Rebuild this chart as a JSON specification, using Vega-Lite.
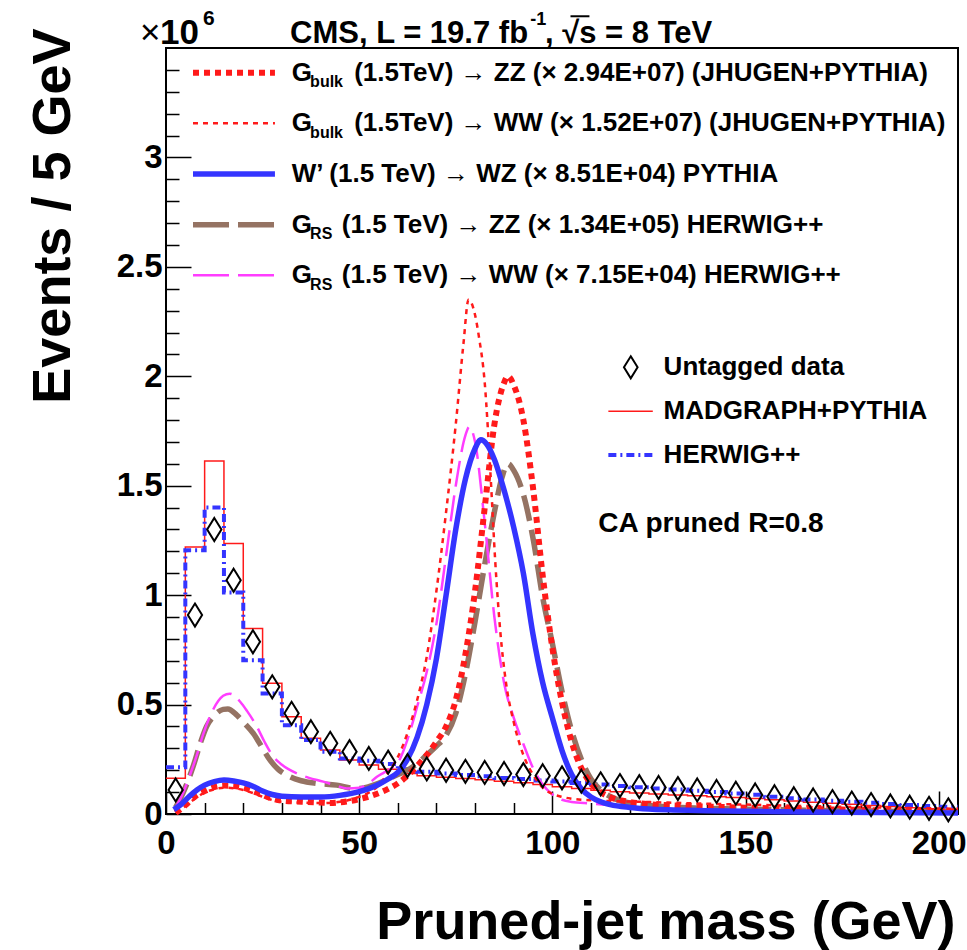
{
  "$schema": "https://vega.github.io/schema/vega-lite/v6.json",
  "width": 792,
  "height": 766,
  "autosize": {"type": "none"},
  "padding": {"left": 166, "top": 48, "right": 9, "bottom": 136},
  "background": "white",
  "config": {
    "view": {"stroke": "black", "strokeWidth": 2},
    "font": "Liberation Sans",
    "text": {"font": "Liberation Sans", "fontWeight": "bold", "color": "black"}
  },
  "datasets": {
    "madgraph": [
      {"m":0,"v":0.163},{"m":5,"v":1.22},{"m":10,"v":1.613},{"m":15,"v":1.236},{"m":20,"v":0.848},{"m":25,"v":0.597},{"m":30,"v":0.444},{"m":35,"v":0.346},{"m":40,"v":0.292},{"m":45,"v":0.247},{"m":50,"v":0.224},{"m":55,"v":0.205},{"m":60,"v":0.185},{"m":65,"v":0.175},{"m":70,"v":0.168},{"m":75,"v":0.162},{"m":80,"v":0.156},{"m":85,"v":0.150},{"m":90,"v":0.143},{"m":95,"v":0.135},{"m":100,"v":0.125},{"m":105,"v":0.116},{"m":110,"v":0.108},{"m":115,"v":0.102},{"m":120,"v":0.096},{"m":125,"v":0.091},{"m":130,"v":0.087},{"m":135,"v":0.083},{"m":140,"v":0.079},{"m":145,"v":0.075},{"m":150,"v":0.071},{"m":155,"v":0.065},{"m":160,"v":0.059},{"m":165,"v":0.054},{"m":170,"v":0.049},{"m":175,"v":0.044},{"m":180,"v":0.039},{"m":185,"v":0.034},{"m":190,"v":0.029},{"m":195,"v":0.024},{"m":200,"v":0.019},{"m":205,"v":0.019}
    ],
    "herwig": [
      {"m":0,"v":0.214},{"m":5,"v":1.205},{"m":10,"v":1.40},{"m":15,"v":1.012},{"m":20,"v":0.703},{"m":25,"v":0.551},{"m":30,"v":0.406},{"m":35,"v":0.338},{"m":40,"v":0.285},{"m":45,"v":0.254},{"m":50,"v":0.243},{"m":55,"v":0.228},{"m":60,"v":0.205},{"m":65,"v":0.193},{"m":70,"v":0.185},{"m":75,"v":0.178},{"m":80,"v":0.172},{"m":85,"v":0.165},{"m":90,"v":0.160},{"m":95,"v":0.153},{"m":100,"v":0.148},{"m":105,"v":0.142},{"m":110,"v":0.135},{"m":115,"v":0.128},{"m":120,"v":0.122},{"m":125,"v":0.117},{"m":130,"v":0.112},{"m":135,"v":0.106},{"m":140,"v":0.100},{"m":145,"v":0.094},{"m":150,"v":0.088},{"m":155,"v":0.079},{"m":160,"v":0.072},{"m":165,"v":0.066},{"m":170,"v":0.060},{"m":175,"v":0.056},{"m":180,"v":0.051},{"m":185,"v":0.046},{"m":190,"v":0.041},{"m":195,"v":0.037},{"m":200,"v":0.033},{"m":205,"v":0.033}
    ],
    "untagged": [
      {"m":2.5,"v":0.11},{"m":7.5,"v":0.909},{"m":12.5,"v":1.30},{"m":17.5,"v":1.068},{"m":22.5,"v":0.787},{"m":27.5,"v":0.581},{"m":32.5,"v":0.46},{"m":37.5,"v":0.376},{"m":42.5,"v":0.323},{"m":47.5,"v":0.285},{"m":52.5,"v":0.254},{"m":57.5,"v":0.237},{"m":62.5,"v":0.221},{"m":67.5,"v":0.206},{"m":72.5,"v":0.200},{"m":77.5,"v":0.195},{"m":82.5,"v":0.190},{"m":87.5,"v":0.185},{"m":92.5,"v":0.180},{"m":97.5,"v":0.175},{"m":102.5,"v":0.165},{"m":107.5,"v":0.150},{"m":112.5,"v":0.138},{"m":117.5,"v":0.130},{"m":122.5,"v":0.125},{"m":127.5,"v":0.121},{"m":132.5,"v":0.116},{"m":137.5,"v":0.110},{"m":142.5,"v":0.103},{"m":147.5,"v":0.095},{"m":152.5,"v":0.087},{"m":157.5,"v":0.079},{"m":162.5,"v":0.070},{"m":167.5,"v":0.064},{"m":172.5,"v":0.057},{"m":177.5,"v":0.050},{"m":182.5,"v":0.043},{"m":187.5,"v":0.037},{"m":192.5,"v":0.031},{"m":197.5,"v":0.026},{"m":202.5,"v":0.019}
    ],
    "wprime": [
      {"m":2,"v":0.02},{"m":4,"v":0.045},{"m":6,"v":0.08},{"m":8,"v":0.11},{"m":10,"v":0.132},{"m":12.5,"v":0.148},{"m":15,"v":0.155},{"m":17.5,"v":0.151},{"m":20,"v":0.142},{"m":22.5,"v":0.127},{"m":25,"v":0.105},{"m":27.5,"v":0.089},{"m":30,"v":0.081},{"m":35,"v":0.078},{"m":40,"v":0.078},{"m":45,"v":0.085},{"m":50,"v":0.102},{"m":52.5,"v":0.116},{"m":55,"v":0.135},{"m":57.5,"v":0.16},{"m":60,"v":0.19},{"m":62.5,"v":0.25},{"m":65,"v":0.35},{"m":67.5,"v":0.5},{"m":70,"v":0.71},{"m":72.5,"v":1.0},{"m":75,"v":1.3},{"m":77.5,"v":1.53},{"m":80,"v":1.67},{"m":81.5,"v":1.71},{"m":83,"v":1.69},{"m":85,"v":1.62},{"m":87.5,"v":1.48},{"m":90,"v":1.31},{"m":92.5,"v":1.1},{"m":95,"v":0.82},{"m":97.5,"v":0.6},{"m":100,"v":0.44},{"m":102.5,"v":0.29},{"m":105,"v":0.18},{"m":107.5,"v":0.115},{"m":110,"v":0.078},{"m":112.5,"v":0.056},{"m":115,"v":0.043},{"m":120,"v":0.03},{"m":125,"v":0.023},{"m":130,"v":0.019},{"m":140,"v":0.015},{"m":150,"v":0.012},{"m":175,"v":0.008},{"m":205,"v":0.005}
    ],
    "gbulk_zz": [
      {"m":2.5,"v":0.005},{"m":5,"v":0.04},{"m":7.5,"v":0.08},{"m":10,"v":0.105},{"m":12.5,"v":0.123},{"m":15,"v":0.13},{"m":17.5,"v":0.128},{"m":20,"v":0.12},{"m":22.5,"v":0.105},{"m":25,"v":0.087},{"m":27.5,"v":0.07},{"m":30,"v":0.061},{"m":35,"v":0.056},{"m":40,"v":0.052},{"m":42.5,"v":0.05},{"m":45,"v":0.053},{"m":50,"v":0.068},{"m":55,"v":0.095},{"m":57.5,"v":0.115},{"m":60,"v":0.14},{"m":62.5,"v":0.175},{"m":65,"v":0.22},{"m":67.5,"v":0.27},{"m":70,"v":0.33},{"m":72.5,"v":0.40},{"m":75,"v":0.52},{"m":77.5,"v":0.73},{"m":80,"v":1.02},{"m":82.5,"v":1.40},{"m":85,"v":1.78},{"m":87.5,"v":1.97},{"m":88.5,"v":2.0},{"m":90,"v":1.96},{"m":92.5,"v":1.8},{"m":95,"v":1.49},{"m":97.5,"v":1.09},{"m":100,"v":0.76},{"m":102.5,"v":0.51},{"m":105,"v":0.33},{"m":107.5,"v":0.21},{"m":110,"v":0.14},{"m":112.5,"v":0.1},{"m":115,"v":0.077},{"m":120,"v":0.055},{"m":125,"v":0.045},{"m":130,"v":0.04},{"m":140,"v":0.034},{"m":150,"v":0.029},{"m":175,"v":0.02},{"m":205,"v":0.012}
    ],
    "gbulk_ww": [
      {"m":2.5,"v":0.005},{"m":5,"v":0.035},{"m":7.5,"v":0.07},{"m":10,"v":0.098},{"m":12.5,"v":0.113},{"m":15,"v":0.12},{"m":17.5,"v":0.118},{"m":20,"v":0.11},{"m":22.5,"v":0.096},{"m":25,"v":0.079},{"m":27.5,"v":0.064},{"m":30,"v":0.056},{"m":35,"v":0.052},{"m":40,"v":0.05},{"m":45,"v":0.056},{"m":50,"v":0.078},{"m":52.5,"v":0.098},{"m":55,"v":0.13},{"m":57.5,"v":0.19},{"m":60,"v":0.26},{"m":62.5,"v":0.37},{"m":65,"v":0.52},{"m":67.5,"v":0.72},{"m":70,"v":1.02},{"m":72.5,"v":1.38},{"m":75,"v":1.78},{"m":77,"v":2.15},{"m":78.3,"v":2.35},{"m":80,"v":2.28},{"m":81,"v":2.18},{"m":82.5,"v":1.97},{"m":84,"v":1.55},{"m":85.2,"v":1.16},{"m":86.5,"v":0.84},{"m":88,"v":0.6},{"m":90,"v":0.42},{"m":92.5,"v":0.27},{"m":95,"v":0.18},{"m":97.5,"v":0.12},{"m":100,"v":0.092},{"m":102.5,"v":0.078},{"m":105,"v":0.07},{"m":110,"v":0.063},{"m":120,"v":0.057},{"m":130,"v":0.052},{"m":140,"v":0.047},{"m":150,"v":0.043},{"m":175,"v":0.033},{"m":205,"v":0.024}
    ],
    "grs_ww": [
      {"m":2.5,"v":0.03},{"m":4,"v":0.08},{"m":6.2,"v":0.178},{"m":8,"v":0.27},{"m":9.7,"v":0.368},{"m":12,"v":0.47},{"m":14.8,"v":0.54},{"m":16.5,"v":0.55},{"m":19.2,"v":0.513},{"m":21,"v":0.47},{"m":23.5,"v":0.40},{"m":25.5,"v":0.33},{"m":27.8,"v":0.262},{"m":30,"v":0.225},{"m":33.8,"v":0.186},{"m":37,"v":0.165},{"m":40.7,"v":0.148},{"m":44,"v":0.13},{"m":46.8,"v":0.117},{"m":50,"v":0.12},{"m":52.5,"v":0.14},{"m":54.6,"v":0.17},{"m":56.5,"v":0.19},{"m":58.9,"v":0.216},{"m":60.5,"v":0.25},{"m":62.5,"v":0.34},{"m":65,"v":0.49},{"m":67.5,"v":0.65},{"m":70,"v":0.87},{"m":72.5,"v":1.18},{"m":75,"v":1.5},{"m":77.5,"v":1.73},{"m":78.5,"v":1.77},{"m":80,"v":1.70},{"m":82.5,"v":1.33},{"m":85,"v":0.90},{"m":87.5,"v":0.60},{"m":90,"v":0.44},{"m":92.5,"v":0.32},{"m":95,"v":0.21},{"m":97.5,"v":0.135},{"m":100,"v":0.09},{"m":102.5,"v":0.065},{"m":105,"v":0.055},{"m":110,"v":0.048},{"m":115,"v":0.04},{"m":120,"v":0.03},{"m":130,"v":0.02},{"m":150,"v":0.012},{"m":205,"v":0.005}
    ],
    "grs_zz": [
      {"m":2.5,"v":0.03},{"m":4.5,"v":0.1},{"m":7,"v":0.216},{"m":9,"v":0.33},{"m":10.5,"v":0.40},{"m":12.5,"v":0.45},{"m":14.8,"v":0.478},{"m":16,"v":0.48},{"m":18.3,"v":0.452},{"m":20,"v":0.42},{"m":22.6,"v":0.368},{"m":25,"v":0.30},{"m":26.9,"v":0.247},{"m":29,"v":0.205},{"m":32.1,"v":0.17},{"m":35,"v":0.152},{"m":39,"v":0.14},{"m":44.2,"v":0.132},{"m":48.5,"v":0.117},{"m":50,"v":0.116},{"m":52.5,"v":0.125},{"m":55,"v":0.14},{"m":57.5,"v":0.16},{"m":60,"v":0.18},{"m":62.5,"v":0.2},{"m":65,"v":0.23},{"m":67.5,"v":0.27},{"m":70,"v":0.31},{"m":72.5,"v":0.36},{"m":75,"v":0.46},{"m":77.5,"v":0.64},{"m":80,"v":0.88},{"m":82.5,"v":1.14},{"m":85,"v":1.38},{"m":87,"v":1.54},{"m":88.5,"v":1.60},{"m":90,"v":1.57},{"m":92.5,"v":1.46},{"m":95,"v":1.26},{"m":97.5,"v":0.99},{"m":100,"v":0.78},{"m":102.5,"v":0.56},{"m":105,"v":0.38},{"m":107.5,"v":0.25},{"m":110,"v":0.16},{"m":112.5,"v":0.11},{"m":115,"v":0.08},{"m":120,"v":0.05},{"m":130,"v":0.032},{"m":150,"v":0.022},{"m":175,"v":0.015},{"m":205,"v":0.01}
    ],
    "annotations": [
      {"id":"times","text":"×"},
      {"id":"x10","text":"10"},
      {"id":"exp6","text":"6"},
      {"id":"cms","text":"CMS, L = 19.7 fb"},
      {"id":"lumiexp","text":"-1"},
      {"id":"energy","text":", √s = 8 TeV"},
      {"id":"algo","text":"CA pruned R=0.8"}
    ],
    "legend1": [
      {"row":1,"main":"G","sub":"bulk","rest":"(1.5TeV) → ZZ (× 2.94E+07) (JHUGEN+PYTHIA)"},
      {"row":2,"main":"G","sub":"bulk","rest":"(1.5TeV) → WW (× 1.52E+07) (JHUGEN+PYTHIA)"},
      {"row":3,"main":"W’ (1.5 TeV) → WZ (× 8.51E+04) PYTHIA","sub":"","rest":""},
      {"row":4,"main":"G","sub":"RS","rest":"(1.5 TeV) → ZZ (× 1.34E+05) HERWIG++"},
      {"row":5,"main":"G","sub":"RS","rest":"(1.5 TeV) → WW (× 7.15E+04) HERWIG++"}
    ],
    "legend2": [
      {"row":1,"label":"Untagged data"},
      {"row":2,"label":"MADGRAPH+PYTHIA"},
      {"row":3,"label":"HERWIG++"}
    ]
  },
  "resolve": {"scale": {"y": "independent"}},
  "layer": [
    {
      "resolve": {"axis": {"x": "independent", "y": "independent"}},
      "layer": [
        {
          "data": {"name": "madgraph"},
          "mark": {"type": "line", "interpolate": "step-after", "color": "#ff1a1a", "strokeWidth": 1.5},
          "encoding": {
            "x": {"field": "m", "type": "quantitative", "scale": {"domain": [0, 205], "nice": false, "zero": false},
              "axis": {"orient": "bottom", "values": [0, 50, 100, 150, 200], "format": "d", "tickSize": -23, "tickWidth": 1.5, "tickColor": "black", "domain": false, "grid": false,
                "labelFont": "Liberation Sans", "labelFontWeight": "bold", "labelFontSize": 33, "labelColor": "black", "labelPadding": 36, "labelFlush": false, "labelOverlap": false,
                "title": "Pruned-jet mass (GeV)", "titleFont": "Liberation Sans", "titleFontWeight": "bold", "titleFontSize": 54, "titleColor": "black", "titleAnchor": "end", "titleAlign": "right", "titleBaseline": "alphabetic", "titleX": 789, "titleY": 124}},
            "y": {"field": "v", "type": "quantitative", "scale": {"domain": [0, 3.5], "nice": false, "zero": false},
              "axis": {"orient": "left", "values": [0, 0.5, 1, 1.5, 2, 2.5, 3], "format": "~g", "tickSize": -25, "tickWidth": 1.5, "tickColor": "black", "domain": false, "grid": false,
                "labelFont": "Liberation Sans", "labelFontWeight": "bold", "labelFontSize": 33, "labelColor": "black", "labelPadding": 29, "labelFlush": false, "labelOverlap": false,
                "title": "Events / 5 GeV", "titleFont": "Liberation Sans", "titleFontWeight": "bold", "titleFontSize": 54, "titleColor": "black", "titleAngle": 270, "titleAnchor": "end", "titleAlign": "right", "titleBaseline": "alphabetic", "titleX": -97, "titleY": -20}}
          }
        },
        {
          "data": {"name": "herwig"},
          "mark": {"type": "line", "interpolate": "step-after", "color": "#3434ff", "strokeWidth": 4, "strokeDash": [8, 4, 2, 4]},
          "encoding": {
            "x": {"field": "m", "type": "quantitative", "scale": {"domain": [0, 205], "nice": false, "zero": false},
              "axis": {"orient": "bottom", "values": [10, 20, 30, 40, 60, 70, 80, 90, 110, 120, 130, 140, 160, 170, 180, 190], "tickSize": -11.5, "tickWidth": 1.5, "tickColor": "black", "labels": false, "domain": false, "grid": false, "title": null}},
            "y": {"field": "v", "type": "quantitative", "scale": {"domain": [0, 3.5], "nice": false, "zero": false},
              "axis": {"orient": "left", "values": [0.1, 0.2, 0.3, 0.4, 0.6, 0.7, 0.8, 0.9, 1.1, 1.2, 1.3, 1.4, 1.6, 1.7, 1.8, 1.9, 2.1, 2.2, 2.3, 2.4, 2.6, 2.7, 2.8, 2.9, 3.1, 3.2, 3.3, 3.4], "tickSize": -13, "tickWidth": 1.5, "tickColor": "black", "labels": false, "domain": false, "grid": false, "title": null}}
          }
        },
        {"data": {"name": "grs_zz"}, "mark": {"type": "line", "interpolate": "monotone", "color": "#957363", "strokeWidth": 5.5, "strokeDash": [26, 9]},
          "encoding": {"x": {"field": "m", "type": "quantitative", "scale": {"domain": [0, 205], "nice": false, "zero": false}, "axis": null}, "y": {"field": "v", "type": "quantitative", "scale": {"domain": [0, 3.5], "nice": false, "zero": false}, "axis": null}}},
        {"data": {"name": "grs_ww"}, "mark": {"type": "line", "interpolate": "monotone", "color": "#ff3dff", "strokeWidth": 2.5, "strokeDash": [26, 9]},
          "encoding": {"x": {"field": "m", "type": "quantitative", "scale": {"domain": [0, 205], "nice": false, "zero": false}, "axis": null}, "y": {"field": "v", "type": "quantitative", "scale": {"domain": [0, 3.5], "nice": false, "zero": false}, "axis": null}}},
        {"data": {"name": "gbulk_ww"}, "mark": {"type": "line", "interpolate": "monotone", "color": "#ff1a1a", "strokeWidth": 2.5, "strokeDash": [5, 5]},
          "encoding": {"x": {"field": "m", "type": "quantitative", "scale": {"domain": [0, 205], "nice": false, "zero": false}, "axis": null}, "y": {"field": "v", "type": "quantitative", "scale": {"domain": [0, 3.5], "nice": false, "zero": false}, "axis": null}}},
        {"data": {"name": "gbulk_zz"}, "mark": {"type": "line", "interpolate": "monotone", "color": "#ff1a1a", "strokeWidth": 6, "strokeDash": [6, 5]},
          "encoding": {"x": {"field": "m", "type": "quantitative", "scale": {"domain": [0, 205], "nice": false, "zero": false}, "axis": null}, "y": {"field": "v", "type": "quantitative", "scale": {"domain": [0, 3.5], "nice": false, "zero": false}, "axis": null}}},
        {"data": {"name": "wprime"}, "mark": {"type": "line", "interpolate": "monotone", "color": "#3434ff", "strokeWidth": 5.5},
          "encoding": {"x": {"field": "m", "type": "quantitative", "scale": {"domain": [0, 205], "nice": false, "zero": false}, "axis": null}, "y": {"field": "v", "type": "quantitative", "scale": {"domain": [0, 3.5], "nice": false, "zero": false}, "axis": null}}},
        {"data": {"name": "untagged"}, "mark": {"type": "point", "shape": "M0,-1L0.62,0L0,1L-0.62,0Z", "size": 529, "filled": false, "stroke": "black", "strokeWidth": 2, "opacity": 1},
          "encoding": {"x": {"field": "m", "type": "quantitative", "scale": {"domain": [0, 205], "nice": false, "zero": false}, "axis": null}, "y": {"field": "v", "type": "quantitative", "scale": {"domain": [0, 3.5], "nice": false, "zero": false}, "axis": null}}},
        {
          "data": {"name": "annotations"},
          "transform": [{"filter": "datum.id == 'times'"}],
          "mark": {"type": "text", "fontSize": 35, "fontWeight": "normal", "align": "left", "baseline": "alphabetic"},
          "encoding": {
            "x": {"datum": -6.73, "type": "quantitative", "axis": null},
            "y": {"datum": 3.5205, "type": "quantitative", "axis": null},
            "text": {"field": "text"}
          }
        },
        {
          "data": {"name": "annotations"},
          "transform": [{"filter": "datum.id == 'x10'"}],
          "mark": {"type": "text", "fontSize": 35, "align": "left", "baseline": "alphabetic"},
          "encoding": {
            "x": {"datum": -1.55, "type": "quantitative", "axis": null},
            "y": {"datum": 3.5205, "type": "quantitative", "axis": null},
            "text": {"field": "text"}
          }
        },
        {
          "data": {"name": "annotations"},
          "transform": [{"filter": "datum.id == 'exp6'"}],
          "mark": {"type": "text", "fontSize": 21, "align": "left", "baseline": "alphabetic"},
          "encoding": {
            "x": {"datum": 9.58, "type": "quantitative", "axis": null},
            "y": {"datum": 3.603, "type": "quantitative", "axis": null},
            "text": {"field": "text"}
          }
        },
        {
          "data": {"name": "annotations"},
          "transform": [{"filter": "datum.id == 'cms'"}],
          "mark": {"type": "text", "fontSize": 31, "align": "left", "baseline": "alphabetic"},
          "encoding": {
            "x": {"datum": 32.11, "type": "quantitative", "axis": null},
            "y": {"datum": 3.5228, "type": "quantitative", "axis": null},
            "text": {"field": "text"}
          }
        },
        {
          "data": {"name": "annotations"},
          "transform": [{"filter": "datum.id == 'lumiexp'"}],
          "mark": {"type": "text", "fontSize": 18, "align": "left", "baseline": "alphabetic"},
          "encoding": {
            "x": {"datum": 94.3, "type": "quantitative", "axis": null},
            "y": {"datum": 3.603, "type": "quantitative", "axis": null},
            "text": {"field": "text"}
          }
        },
        {
          "data": {"name": "annotations"},
          "transform": [{"filter": "datum.id == 'energy'"}],
          "mark": {"type": "text", "fontSize": 31, "align": "left", "baseline": "alphabetic"},
          "encoding": {
            "x": {"datum": 98.1, "type": "quantitative", "axis": null},
            "y": {"datum": 3.5228, "type": "quantitative", "axis": null},
            "text": {"field": "text"}
          }
        },
        {
          "data": {"name": "annotations"},
          "transform": [{"filter": "datum.id == 'energy'"}],
          "mark": {"type": "rule", "color": "black", "strokeWidth": 2},
          "encoding": {
            "x": {"datum": 104.7, "type": "quantitative", "axis": null},
            "x2": {"datum": 109.6},
            "y": {"datum": 3.645, "type": "quantitative", "axis": null}
          }
        },
        {
          "data": {"name": "annotations"},
          "transform": [{"filter": "datum.id == 'algo'"}],
          "mark": {"type": "text", "fontSize": 28, "align": "left", "baseline": "middle"},
          "encoding": {
            "x": {"datum": 111.9, "type": "quantitative", "axis": null},
            "y": {"datum": 1.325, "type": "quantitative", "axis": null},
            "text": {"field": "text"}
          }
        }
      ]
    },
    {
      "data": {"name": "legend1"},
      "encoding": {
        "y": {"field": "row", "type": "quantitative", "scale": {"domain": [0.5123, 15.635], "reverse": true, "nice": false, "zero": false}, "axis": null}
      },
      "layer": [
        {"transform": [{"filter": "datum.row == 1"}], "mark": {"type": "rule", "color": "#ff1a1a", "strokeWidth": 6, "strokeDash": [6, 5]},
          "encoding": {"x": {"datum": 6.99, "type": "quantitative", "axis": null}, "x2": {"datum": 28.2}}},
        {"transform": [{"filter": "datum.row == 2"}], "mark": {"type": "rule", "color": "#ff1a1a", "strokeWidth": 2.5, "strokeDash": [5, 5]},
          "encoding": {"x": {"datum": 6.99, "type": "quantitative", "axis": null}, "x2": {"datum": 28.2}}},
        {"transform": [{"filter": "datum.row == 3"}], "mark": {"type": "rule", "color": "#3434ff", "strokeWidth": 5.5},
          "encoding": {"x": {"datum": 6.99, "type": "quantitative", "axis": null}, "x2": {"datum": 28.2}}},
        {"transform": [{"filter": "datum.row == 4"}], "mark": {"type": "rule", "color": "#957363", "strokeWidth": 5.5, "strokeDash": [36, 9]},
          "encoding": {"x": {"datum": 6.99, "type": "quantitative", "axis": null}, "x2": {"datum": 28.2}}},
        {"transform": [{"filter": "datum.row == 5"}], "mark": {"type": "rule", "color": "#ff3dff", "strokeWidth": 2.5, "strokeDash": [36, 9]},
          "encoding": {"x": {"datum": 6.99, "type": "quantitative", "axis": null}, "x2": {"datum": 28.2}}},
        {"mark": {"type": "text", "fontSize": 26, "align": "left", "baseline": "middle"},
          "encoding": {"x": {"datum": 32.55, "type": "quantitative", "axis": null}, "text": {"field": "main"}}},
        {"transform": [{"filter": "datum.sub != ''"}], "mark": {"type": "text", "fontSize": 16, "align": "left", "baseline": "middle", "dy": 9.5},
          "encoding": {"x": {"datum": 37.3, "type": "quantitative", "axis": null}, "text": {"field": "sub"}}},
        {"transform": [{"filter": "datum.sub == 'bulk'"}], "mark": {"type": "text", "fontSize": 26, "align": "left", "baseline": "middle"},
          "encoding": {"x": {"datum": 48.7, "type": "quantitative", "axis": null}, "text": {"field": "rest"}}},
        {"transform": [{"filter": "datum.sub == 'RS'"}], "mark": {"type": "text", "fontSize": 26, "align": "left", "baseline": "middle"},
          "encoding": {"x": {"datum": 45.5, "type": "quantitative", "axis": null}, "text": {"field": "rest"}}}
      ]
    },
    {
      "data": {"name": "legend2"},
      "encoding": {
        "y": {"field": "row", "type": "quantitative", "scale": {"domain": [-6.282, 11.187], "reverse": true, "nice": false, "zero": false}, "axis": null}
      },
      "layer": [
        {"transform": [{"filter": "datum.row == 1"}], "mark": {"type": "point", "shape": "M0,-1L0.62,0L0,1L-0.62,0Z", "size": 484, "filled": false, "stroke": "black", "strokeWidth": 2, "opacity": 1},
          "encoding": {"x": {"datum": 120.3, "type": "quantitative", "axis": null}}},
        {"transform": [{"filter": "datum.row == 2"}], "mark": {"type": "rule", "color": "#ff1a1a", "strokeWidth": 1.5},
          "encoding": {"x": {"datum": 114.5, "type": "quantitative", "axis": null}, "x2": {"datum": 126.0}}},
        {"transform": [{"filter": "datum.row == 3"}], "mark": {"type": "rule", "color": "#3434ff", "strokeWidth": 4, "strokeDash": [8, 4, 2, 4]},
          "encoding": {"x": {"datum": 114.5, "type": "quantitative", "axis": null}, "x2": {"datum": 126.0}}},
        {"mark": {"type": "text", "fontSize": 26, "align": "left", "baseline": "middle"},
          "encoding": {"x": {"datum": 128.8, "type": "quantitative", "axis": null}, "text": {"field": "label"}}}
      ]
    }
  ]
}
